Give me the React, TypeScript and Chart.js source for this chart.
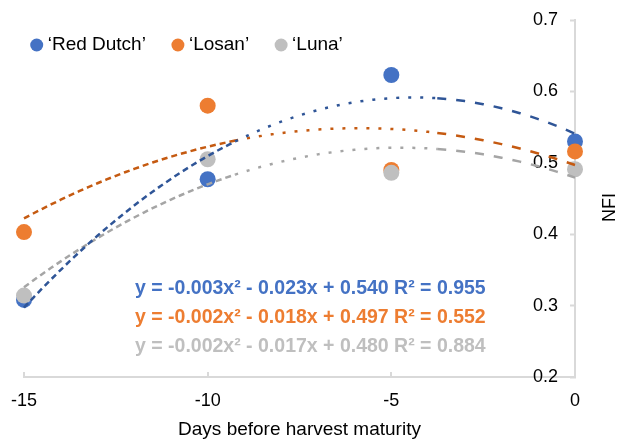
import React, { useEffect, useRef } from 'react';
import { Chart, registerables } from 'chart.js';

Chart.register(...registerables);

// ---- data ----
const days = [-15, -10, -5, 0];
const redDutch = [0.308, 0.477, 0.623, 0.53];
const losan = [0.403, 0.58, 0.49, 0.516];
const luna = [0.314, 0.505, 0.486, 0.491];

const seriesLabels = ['\u2018Red Dutch\u2019', '\u2018Losan\u2019', '\u2018Luna\u2019'];
const pointColors = ['#4472C4', '#ED7D31', '#BFBFBF'];
const trendColors = ['#2F5597', '#C55A11', '#A5A5A5'];
const equationTexts = [
  'y = -0.003x\u00B2 - 0.023x + 0.540 R\u00B2 = 0.955',
  'y = -0.002x\u00B2 - 0.018x + 0.497 R\u00B2 = 0.552',
  'y = -0.002x\u00B2 - 0.017x + 0.480 R\u00B2 = 0.884',
];
const xTicks = [-15, -10, -5, 0];
const yTicks = [0.2, 0.3, 0.4, 0.5, 0.6, 0.7];
const xTitle = 'Days before harvest maturity';
const yTitle = 'NFI';
const trendBreaks = [-9.4, -3.9];

const FONT = "'Liberation Sans', Arial, sans-serif";
const AXIS_COLOR = '#D9D9D9';

// least-squares quadratic fit (Excel polynomial trendline, order 2)
function quadFit(xs: number[], ys: number[]): number[] {
  const s = [0, 0, 0, 0, 0];
  const t = [0, 0, 0];
  for (let i = 0; i < xs.length; i++) {
    for (let k = 0; k < 5; k++) s[k] += Math.pow(xs[i], k);
    for (let k = 0; k < 3; k++) t[k] += ys[i] * Math.pow(xs[i], k);
  }
  const A = [
    [s[0], s[1], s[2], t[0]],
    [s[1], s[2], s[3], t[1]],
    [s[2], s[3], s[4], t[2]],
  ];
  for (let c = 0; c < 3; c++) {
    let p = c;
    for (let r = c + 1; r < 3; r++) if (Math.abs(A[r][c]) > Math.abs(A[p][c])) p = r;
    [A[c], A[p]] = [A[p], A[c]];
    for (let r = 0; r < 3; r++) {
      if (r === c) continue;
      const f = A[r][c] / A[c][c];
      for (let k = c; k < 4; k++) A[r][k] -= f * A[c][k];
    }
  }
  return [A[0][3] / A[0][0], A[1][3] / A[1][1], A[2][3] / A[2][2]];
}

function trendPoints(ys: number[]) {
  const [c0, c1, c2] = quadFit(days, ys);
  const pts: { x: number; y: number }[] = [];
  const lo = days[0];
  const hi = days[days.length - 1];
  const n = 60;
  for (let i = 0; i <= n; i++) {
    const x = lo + ((hi - lo) * i) / n;
    pts.push({ x, y: c0 + c1 * x + c2 * x * x });
  }
  return pts;
}

const allSeries = [redDutch, losan, luna];

const innerTicksPlugin = {
  id: 'innerTicks',
  beforeDatasetsDraw(chart: any) {
    const { ctx } = chart;
    const xs = chart.scales.x;
    ctx.save();
    ctx.strokeStyle = AXIS_COLOR;
    ctx.lineWidth = 2;
    ctx.beginPath();
    for (const t of xs.ticks) {
      const px = Math.round(xs.getPixelForValue(t.value));
      ctx.moveTo(px, xs.top);
      ctx.lineTo(px, xs.top - 5);
    }
    ctx.stroke();
    ctx.restore();
  },
};

const overlayPlugin = {
  id: 'overlay',
  afterDraw(chart: any) {
    const { ctx, chartArea } = chart;
    ctx.save();
    // legend
    ctx.font = `19px ${FONT}`;
    ctx.textBaseline = 'middle';
    ctx.textAlign = 'left';
    let cx = chartArea.left + 12.7;
    const cy = chartArea.top + 25;
    for (let i = 0; i < 3; i++) {
      const ds = chart.data.datasets[i];
      ctx.fillStyle = ds.backgroundColor;
      ctx.beginPath();
      ctx.arc(cx, cy, 6.5, 0, Math.PI * 2);
      ctx.fill();
      const tx = cx + 11;
      ctx.fillStyle = '#000';
      ctx.fillText(ds.label, tx, cy);
      cx = tx + ctx.measureText(ds.label).width + 32;
    }
    // equations
    ctx.font = `bold 19.5px ${FONT}`;
    for (let i = 0; i < equationTexts.length; i++) {
      ctx.fillStyle = pointColors[i];
      ctx.fillText(equationTexts[i], chartArea.left + 111, chartArea.top + 269 + i * 29);
    }
    // y title
    ctx.font = `18px ${FONT}`;
    ctx.fillStyle = '#000';
    ctx.translate(chartArea.right + 35, (chartArea.top + chartArea.bottom) / 2 + 9);
    ctx.rotate(-Math.PI / 2);
    ctx.textAlign = 'center';
    ctx.fillText(yTitle, 0, 0);
    ctx.restore();
  },
};

export default function App() {
  const ref = useRef<HTMLCanvasElement>(null);
  useEffect(() => {
    document.body.style.margin = '0';
    const pointSets = allSeries.map((ys, i) => ({
      type: 'scatter' as const,
      label: seriesLabels[i],
      data: days.map((d, j) => ({ x: d, y: ys[j] })),
      backgroundColor: pointColors[i],
      borderColor: pointColors[i],
      pointRadius: 8,
      pointBorderWidth: 0,
      showLine: false,
      order: 12 - i,
      clip: false as any,
    }));
    const trendSets = allSeries.map((ys, i) => ({
      type: 'line' as const,
      label: seriesLabels[i] + ' trend',
      data: trendPoints(ys),
      borderColor: trendColors[i],
      backgroundColor: trendColors[i],
      borderWidth: 2.5,
      pointRadius: 0,
      fill: false,
      tension: 0,
      order: 1 + i,
      clip: false as any,
      segment: {
        borderDash: (c: any) => {
          const x = c.p0.parsed.x;
          if (x < trendBreaks[0]) return [6, 4];
          if (x < trendBreaks[1]) return [3, 9];
          return [9, 10];
        },
      },
    }));
    const chart = new Chart(ref.current as HTMLCanvasElement, {
      type: 'scatter',
      data: { datasets: [...pointSets, ...trendSets] as any },
      options: {
        responsive: true,
        maintainAspectRatio: false,
        animation: false,
        layout: { padding: { left: 24, right: 47, top: 20, bottom: 0 } },
        plugins: {
          legend: { display: false },
          tooltip: { enabled: false },
        },
        scales: {
          x: {
            type: 'linear',
            position: 'bottom',
            min: xTicks[0],
            max: xTicks[xTicks.length - 1],
            afterBuildTicks: (s: any) => {
              s.ticks = xTicks.map((v) => ({ value: v }));
            },
            afterFit: (s: any) => {
              s.height = 62;
            },
            grid: {
              display: true,
              drawOnChartArea: false,
              drawTicks: true,
              tickLength: 13,
              tickColor: 'rgba(0,0,0,0)',
            },
            border: { display: true, color: AXIS_COLOR, width: 2 },
            ticks: {
              padding: 0,
              color: '#000',
              font: { family: FONT, size: 18 },
              callback: (v: any) => String(v),
            },
            title: {
              display: true,
              text: xTitle,
              color: '#000',
              font: { family: FONT, size: 19, lineHeight: 1 },
              padding: { top: 0, bottom: 0 },
            },
          },
          y: {
            type: 'linear',
            position: 'right',
            min: yTicks[0],
            max: yTicks[yTicks.length - 1],
            afterBuildTicks: (s: any) => {
              s.ticks = yTicks.map((v) => ({ value: v }));
            },
            afterFit: (s: any) => {
              s.width = 0;
            },
            grid: {
              display: true,
              drawOnChartArea: false,
              drawTicks: true,
              tickLength: -5,
              tickColor: AXIS_COLOR,
              tickWidth: 2,
            },
            border: { display: true, color: AXIS_COLOR, width: 2 },
            ticks: {
              mirror: true,
              padding: -17,
              color: '#000',
              font: { family: FONT, size: 18 },
              callback: (v: any) => Number(v).toFixed(1),
            },
            title: { display: false },
          },
        },
      },
      plugins: [innerTicksPlugin, overlayPlugin],
    } as any);
    return () => chart.destroy();
  }, []);
  return (
    <div style={{ width: 622, height: 439, position: 'relative' }}>
      <canvas ref={ref} />
    </div>
  );
}
